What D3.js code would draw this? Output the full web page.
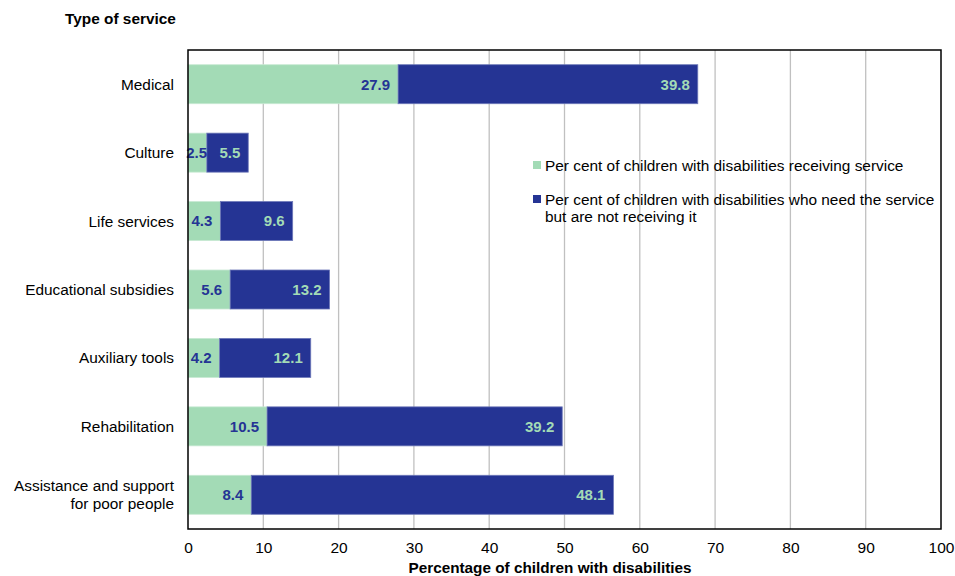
<!DOCTYPE html>
<html><head><meta charset="utf-8">
<script src="https://cdn.jsdelivr.net/npm/d3@7"></script>
<style>
body{margin:0;background:#fff;}
text{font-family:"Liberation Sans",Arial,sans-serif;}
</style></head>
<body><svg id="chart" width="955" height="576"></svg>
<script>
const categories = ["Medical","Culture","Life services","Educational subsidies","Auxiliary tools","Rehabilitation","Assistance and support|for poor people"];
const receiving = [27.9,2.5,4.3,5.6,4.2,10.5,8.4];
const needing = [39.8,5.5,9.6,13.2,12.1,39.2,48.1];
const seriesNames = ["Per cent of children with disabilities receiving service","Per cent of children with disabilities who need the service|but are not receiving it"];
const xTicks = [0,10,20,30,40,50,60,70,80,90,100];
const colors = ["#a3dbb6","#253494"];

const svg = d3.select("#chart");
const L=188,R=941,T=50,B=529;
const x = d3.scaleLinear().domain([0,100]).range([L,R]);
const y = d3.scaleBand().domain(categories).range([T,B]).paddingInner(0.43).paddingOuter(0.215);

// gridlines
svg.append("g").selectAll("line").data(xTicks.slice(1,-1)).join("line")
  .attr("x1",d=>x(d)).attr("x2",d=>x(d)).attr("y1",T).attr("y2",B)
  .attr("stroke","#c0c0c0").attr("stroke-width",1.3);

const stack = categories.map((c,i)=>({c,segs:[{v:receiving[i],x0:0,x1:receiving[i],s:0},{v:needing[i],x0:receiving[i],x1:receiving[i]+needing[i],s:1}]}));
const g = svg.append("g");
stack.forEach(d=>{
  d.segs.forEach(s=>{
    g.append("rect").attr("x",x(s.x0)).attr("y",y(d.c)).attr("width",x(s.x1)-x(s.x0)).attr("height",y.bandwidth())
      .attr("fill",colors[s.s]).attr("stroke",s.s?"#6d78b8":"#c8e9d3").attr("stroke-width",0.8);
  });
  d.segs.forEach(s=>{
    const xe = Math.max(x(s.x1)-8, x(s.x0)+19);
    g.append("text").attr("x",xe).attr("y",y(d.c)+y.bandwidth()/2).attr("dy","0.36em")
      .attr("text-anchor","end").attr("font-weight","bold").attr("font-size",15)
      .attr("fill",s.s?colors[0]:colors[1]).text(s.v.toFixed(1));
  });
});

// border
svg.append("rect").attr("x",L).attr("y",T).attr("width",R-L).attr("height",B-T)
  .attr("fill","none").attr("stroke","#000").attr("stroke-width",1.5);

// x axis labels
const xa = d3.axisBottom(x).tickValues(xTicks).tickSize(0).tickPadding(13);
const xg = svg.append("g").attr("transform",`translate(0,${B})`).call(xa);
xg.select(".domain").remove();
xg.attr("font-family",null).attr("font-size",null);
xg.selectAll("text").attr("font-size",15.5).attr("fill","#000");

svg.append("text").attr("x",550).attr("y",573).attr("text-anchor","middle")
  .attr("font-weight","bold").attr("font-size",15.3).text("Percentage of children with disabilities");

// category labels
categories.forEach(c=>{
  const lines=c.split("|");
  const t=svg.append("text").attr("x",174).attr("text-anchor","end").attr("font-size",15.4).attr("fill","#000");
  const cy=y(c)+y.bandwidth()/2;
  lines.forEach((ln,i)=>{
    t.append("tspan").attr("x",174).attr("y",cy+(i-(lines.length-1)/2)*18).attr("dy","0.36em").text(ln);
  });
});

svg.append("text").attr("x",65).attr("y",24).attr("font-weight","bold").attr("font-size",15.4).text("Type of service");

// legend
const ly=[165,199];
seriesNames.forEach((n,i)=>{
  svg.append("rect").attr("x",533).attr("y",ly[i]-4).attr("width",8).attr("height",8).attr("fill",colors[i]);
  const lines=n.split("|");
  const t=svg.append("text").attr("font-size",15.4).attr("fill","#000");
  lines.forEach((ln,j)=>{
    t.append("tspan").attr("x",545).attr("y",ly[i]+j*17).attr("dy","0.36em").text(ln);
  });
});
</script></body></html>
